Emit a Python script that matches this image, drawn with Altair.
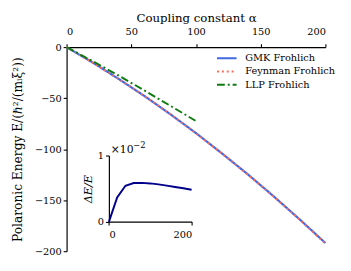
import altair as alt
import pandas as pd

# ---- data ----
series_names = ["GMK Frohlich", "Feynman Frohlich", "LLP Frohlich"]

alpha_main = [0, 20, 40, 60, 80, 100, 120, 140, 160, 180, 200]
gmk_energy = [0, -15.0, -31.0, -47.8, -65.6, -84.3, -104.1, -124.6, -146.2, -168.7, -192.0]
feynman_energy = [0, -15.1, -31.1, -47.9, -65.7, -84.5, -104.3, -124.9, -146.5, -169.0, -192.5]

alpha_llp = [0, 20, 40, 60, 80, 100]
llp_energy = [0, -13.7, -27.8, -42.4, -57.4, -72.5]

alpha_inset = [0, 20, 40, 60, 80, 100, 120, 140, 160, 180, 200]
rel_diff = [0, 0.37, 0.545, 0.585, 0.588, 0.58, 0.565, 0.547, 0.527, 0.506, 0.485]  # x 10^-2

x_ticks = [0, 50, 100, 150, 200]
y_ticks = [0, -50, -100, -150, -200]

colors = ["#4169e1", "#ff6b5b", "#0f7a0f"]
dashes = [[1, 0], [2, 3], [8, 3, 2, 3]]

FONT = "DejaVu Serif, Liberation Serif, serif"

rows = []
for a, e in zip(alpha_main, gmk_energy):
    rows.append({"alpha": a, "energy": e, "series": series_names[0]})
for a, e in zip(alpha_main, feynman_energy):
    rows.append({"alpha": a, "energy": e, "series": series_names[1]})
for a, e in zip(alpha_llp, llp_energy):
    rows.append({"alpha": a, "energy": e, "series": series_names[2]})
main_df = pd.DataFrame(rows)

inset_df = pd.DataFrame({"alpha": alpha_inset, "rel": rel_diff})
note_base = pd.DataFrame({"alpha": [0], "rel": [1], "label": ["×10"]})
note_exp = pd.DataFrame({"alpha": [0], "rel": [1], "label": ["−2"]})

W, H = 265, 209

legend_def = alt.Legend(
    title=None, orient="none", legendX=153, legendY=5,
    symbolType="stroke", symbolSize=400, symbolStrokeWidth=2,
    labelFont=FONT, labelFontSize=10, labelColor="black",
    labelOffset=8, clipHeight=13, rowPadding=0.5, padding=0,
)

mx = alt.X("alpha:Q", scale=alt.Scale(domain=[0, 200], nice=False),
           axis=alt.Axis(orient="top", values=x_ticks, title="Coupling constant α",
                         titlePadding=3, labelPadding=7, titleFontSize=12))
my = alt.Y("energy:Q", scale=alt.Scale(domain=[-200, 0], nice=False),
           axis=alt.Axis(orient="left", values=y_ticks,
                         title="Polaronic Energy E/(ℏ²/(mᵢξ²))",
                         titlePadding=10, labelPadding=2, titleFontSize=12.5))
col = alt.Color("series:N", scale=alt.Scale(domain=series_names, range=colors), legend=legend_def)
dash = alt.StrokeDash("series:N", scale=alt.Scale(domain=series_names, range=dashes), legend=legend_def)

base = alt.Chart(main_df).encode(x=mx, y=my, color=col, strokeDash=dash)
gmk = base.transform_filter(alt.datum.series == series_names[0]).mark_line(strokeWidth=2.2)
fey = base.transform_filter(alt.datum.series == series_names[1]).mark_line(strokeWidth=2)
llp = base.transform_filter(alt.datum.series == series_names[2]).mark_line(strokeWidth=2)
main_layer = alt.layer(gmk, fey, llp)

ix = alt.X("alpha:Q", scale=alt.Scale(domain=[0, 200], range=[43.3, 128], nice=False),
           axis=alt.Axis(orient="bottom", offset=-30.3, values=[0, 200], title=None,
                         labelPadding=5, format="d"))
iy = alt.Y("rel:Q", scale=alt.Scale(domain=[0, 1], range=[179, 111], nice=False),
           axis=alt.Axis(orient="left", offset=-43.3, values=[0, 1], title="ΔE/E",
                         format="d", titleFontStyle="italic", titlePadding=4,
                         labelPadding=2, titleFontSize=11.5))
inset_line = alt.Chart(inset_df).mark_line(color="#00008b", strokeWidth=2).encode(x=ix, y=iy)
inset_note = alt.Chart(note_base).mark_text(
    align="left", baseline="bottom", dx=2, dy=-1, font=FONT, fontSize=11, color="black"
).encode(x=ix, y=iy, text="label:N")
inset_exp = alt.Chart(note_exp).mark_text(
    align="left", baseline="bottom", dx=25, dy=-6, font=FONT, fontSize=8.5, color="black"
).encode(x=ix, y=iy, text="label:N")
inset_layer = alt.layer(inset_line, inset_note, inset_exp)

chart = alt.layer(main_layer, inset_layer).resolve_scale(
    x="independent", y="independent"
).properties(
    width=W, height=H,
    autosize=alt.AutoSizeParams(type="none"),
    padding={"left": 60, "top": 37, "right": 18, "bottom": 8},
    background="white",
).configure_view(stroke=None).configure_axis(
    grid=False, domainColor="black", domainWidth=1.2, tickColor="black",
    tickWidth=1.1, tickSize=3.5, labelFont=FONT, labelFontSize=10, labelColor="black",
    titleFont=FONT, titleFontSize=11.5, titleFontWeight="normal", titleColor="black",
)

chart.save("out.html", embed_options={"renderer": "svg", "actions": False})
